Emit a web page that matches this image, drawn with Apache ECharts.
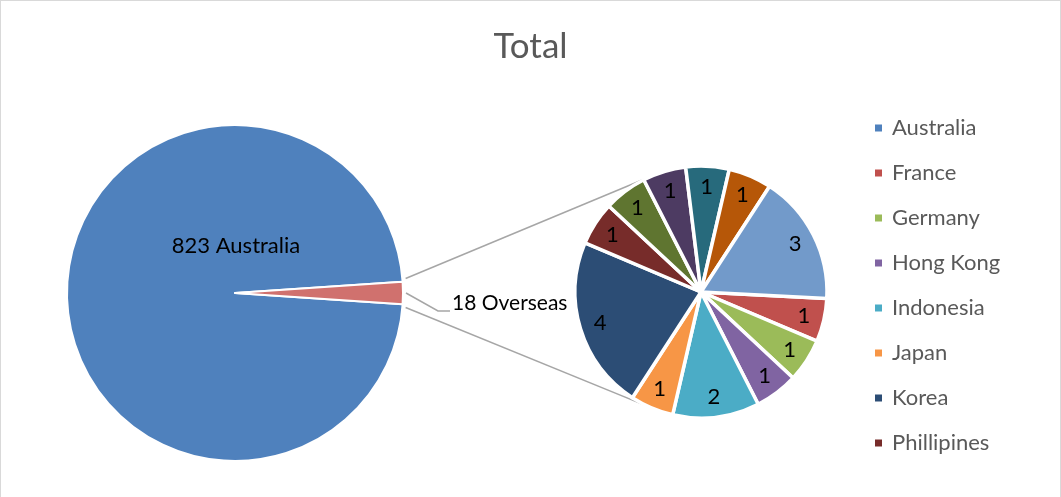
<!DOCTYPE html>
<html>
<head>
<meta charset="utf-8">
<script src="https://cdn.jsdelivr.net/npm/echarts@6/dist/echarts.min.js"></script>
<style>
html,body{margin:0;padding:0;background:#fff;}
#frame{position:absolute;left:0;top:0;width:1061px;height:497px;box-sizing:border-box;border:1px solid #D9D9D9;border-bottom:none;}
#chart{position:absolute;left:0;top:0;width:1061px;height:497px;}
</style>
</head>
<body>
<div id="frame"></div>
<div id="chart"></div>
<script>
// ---- data ----
const mainNames = ['Australia', 'Overseas'];
const mainValues = [823, 18];
const overseasNames = ['France', 'Germany', 'Hong Kong', 'Indonesia', 'Japan', 'Korea', 'Phillipines', 'Singapore', 'Taiwan', 'Thailand', 'UK', 'USA'];
const overseasValues = [1, 1, 1, 2, 1, 4, 1, 1, 1, 1, 1, 3];
const legendNames = ['Australia', 'France', 'Germany', 'Hong Kong', 'Indonesia', 'Japan', 'Korea', 'Phillipines'];

// ---- style ----
const mainColors = ['#4F81BD', '#D0716E'];
const overseasColors = ['#C0504D', '#9BBB59', '#8064A2', '#4BACC6', '#F79646', '#2C4D75', '#772C2A', '#5F7530', '#4D3B62', '#276A7C', '#B65708', '#729ACA'];
const FONT = 'Lato, "Open Sans", sans-serif';
const MAIN = {cx: 235, cy: 293, r: 168};
const SUB = {cx: 701, cy: 292, r: 126};

const total = mainValues.reduce((a, b) => a + b, 0);
const halfDeg = 180 * mainValues[1] / total;
const halfRad = halfDeg * Math.PI / 180;

// connector lines: from the Overseas slice edge points, tangent to the secondary pie
function tangent(px, py, upper) {
  const dx = SUB.cx - px, dy = SUB.cy - py;
  const d = Math.sqrt(dx * dx + dy * dy);
  const base = Math.atan2(dy, dx);
  const off = Math.asin(SUB.r / d);
  const ang = upper ? base - off : base + off;
  const len = Math.sqrt(d * d - SUB.r * SUB.r) - 8;
  return [px + len * Math.cos(ang), py + len * Math.sin(ang)];
}
const pTop = [MAIN.cx + (MAIN.r + 3) * Math.cos(halfRad), MAIN.cy - (MAIN.r + 3) * Math.sin(halfRad) - 3];
const pBot = [MAIN.cx + (MAIN.r + 3) * Math.cos(halfRad), MAIN.cy + (MAIN.r + 3) * Math.sin(halfRad) + 3];
const tTop = tangent(pTop[0], pTop[1], true);
const tBot = tangent(pBot[0], pBot[1], false);
// leader line of the "Overseas" label, starting at the slice's outer edge
const lead0 = [MAIN.cx + MAIN.r + 3, MAIN.cy];
const leader = [lead0, [lead0[0] + 32, lead0[1] + 18], [lead0[0] + 44, lead0[1] + 18]];

const chart = echarts.init(document.getElementById('chart'), null, {renderer: 'canvas'});
chart.setOption({
  animation: false,
  title: {
    text: 'Total', left: 'center', top: 24,
    textStyle: {fontFamily: FONT, fontSize: 35, fontWeight: 'normal', color: '#595959'}
  },
  legend: {
    data: legendNames,
    orient: 'vertical', left: 873, top: 116, padding: 0,
    icon: 'rect', itemWidth: 9, itemHeight: 9, itemGap: 21,
    selectedMode: false,
    textStyle: {fontFamily: FONT, fontSize: 22, color: '#595959', lineHeight: 24, padding: [0, 0, 0, 4]}
  },
  graphic: [
    {type: 'line', shape: {x1: pTop[0], y1: pTop[1], x2: tTop[0], y2: tTop[1]}, style: {stroke: '#A6A6A6', lineWidth: 1.5}, z: 1},
    {type: 'line', shape: {x1: pBot[0], y1: pBot[1], x2: tBot[0], y2: tBot[1]}, style: {stroke: '#A6A6A6', lineWidth: 1.5}, z: 1},
    {type: 'polyline', shape: {points: leader}, style: {stroke: '#A6A6A6', lineWidth: 1.5, fill: null}, z: 1}
  ],
  series: [
    {
      type: 'pie',
      center: [MAIN.cx, MAIN.cy],
      radius: [0, MAIN.r],
      startAngle: -halfDeg,
      clockwise: true,
      avoidLabelOverlap: false,
      itemStyle: {borderColor: '#fff', borderWidth: 2},
      emphasis: {disabled: true},
      labelLine: {show: false, length: 30, length2: 12},
      data: mainNames.map((n, i) => ({
        name: n, value: mainValues[i], itemStyle: {color: mainColors[i]},
        label: i === 0
          ? {show: true, position: 'inside', formatter: '{c} {b}', fontFamily: FONT, fontSize: 22, color: '#000'}
          : {show: true, position: 'outside', formatter: '{c} {b}', fontFamily: FONT, fontSize: 21, color: '#000'}
      })),
      labelLayout: function (p) {
        if (p.dataIndex === 0) {
          return {dx: 88, dy: -47};
        }
        return {dx: 2, dy: 10};
      }
    },
    {
      type: 'pie',
      center: [SUB.cx, SUB.cy],
      radius: [0, SUB.r],
      startAngle: -3,
      clockwise: true,
      avoidLabelOverlap: false,
      itemStyle: {borderColor: '#fff', borderWidth: 3.5},
      emphasis: {disabled: true},
      label: {show: true, position: 'inside', formatter: '{c}', fontFamily: FONT, fontSize: 22, color: '#000'},
      labelLine: {show: false},
      data: overseasNames.map((n, i) => ({name: n, value: overseasValues[i], itemStyle: {color: overseasColors[i]}})),
      labelLayout: function (p) {
        const r = p.labelRect;
        const lx = r.x + r.width / 2, ly = r.y + r.height / 2;
        const k = 1.6;
        return {x: SUB.cx + (lx - SUB.cx) * k, y: SUB.cy + (ly - SUB.cy) * k};
      }
    }
  ]
});
</script>
</body>
</html>
